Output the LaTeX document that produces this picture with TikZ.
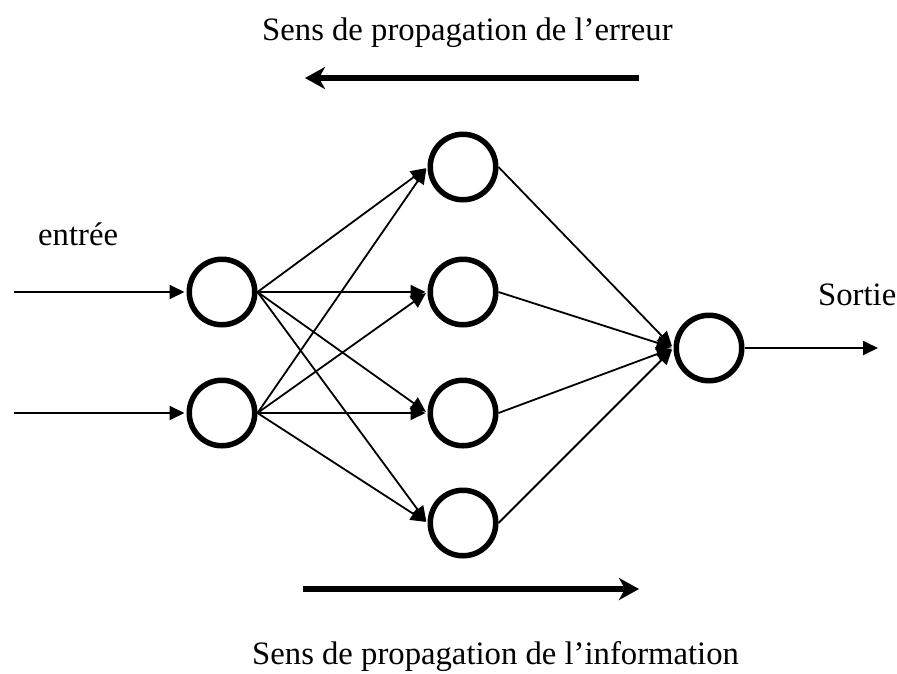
\documentclass[tikz,border=0pt]{standalone}
\usepackage{fontspec}
\setmainfont{Liberation Serif}
\usetikzlibrary{arrows.meta}
\begin{document}
\begin{tikzpicture}[x=1pt,y=-1pt,
  neuron/.style={draw,circle,line width=5.5pt,minimum size=65.5pt,inner sep=0pt},
  conn/.style={line width=1.8pt,-{Triangle[length=15pt,width=14pt]},shorten >=2pt},
  bigarrow/.style={line width=6pt,-{Stealth[length=20pt,width=22pt,inset=6pt]}},
  lbl/.style={inner sep=0pt,font=\fontsize{32.7}{39}\selectfont}]
  \useasboundingbox (0,0) rectangle (897,673);

  % neurons: input, hidden and output layers
  \node[neuron] (i1) at (222,292) {};
  \node[neuron] (i2) at (222,413) {};
  \node[neuron] (h1) at (463,167) {};
  \node[neuron] (h2) at (463,292) {};
  \node[neuron] (h3) at (463,413) {};
  \node[neuron] (h4) at (463,523) {};
  \node[neuron] (o)  at (709,348) {};

  % free ends of the input and output arrows
  \coordinate (in1) at (14,292);
  \coordinate (in2) at (14,413);
  \coordinate (out) at (878,348);

  \draw[conn] (in1) -- (i1.west);
  \draw[conn] (in2) -- (i2.west);
  \foreach \a in {i1,i2}
    \foreach \b in {h1,h2,h3,h4}
      \draw[conn] (\a.east) -- (\b.west);
  \foreach \b in {h1,h2,h3,h4}
    \draw[conn] (\b.east) -- (o.west);
  \draw[conn,shorten >=0pt] (o.east) -- (out);

  % direction arrows
  \coordinate (eA) at (639,78);
  \coordinate (eB) at (305,78);
  \coordinate (fA) at (303,589);
  \coordinate (fB) at (639,589);
  \draw[bigarrow] (eA) -- (eB);
  \draw[bigarrow] (fA) -- (fB);

  % labels
  \node[lbl,anchor=base west] (terr) at (262,40) {Sens de propagation de l’erreur};
  \node[lbl,anchor=base west] (tinf) at (252,664) {Sens de propagation de l’information};
  \node[lbl,anchor=base west] (tin) at (38,245) {entrée};
  \node[lbl,anchor=base west] (tout) at (818,305) {Sortie};
\end{tikzpicture}
\end{document}
